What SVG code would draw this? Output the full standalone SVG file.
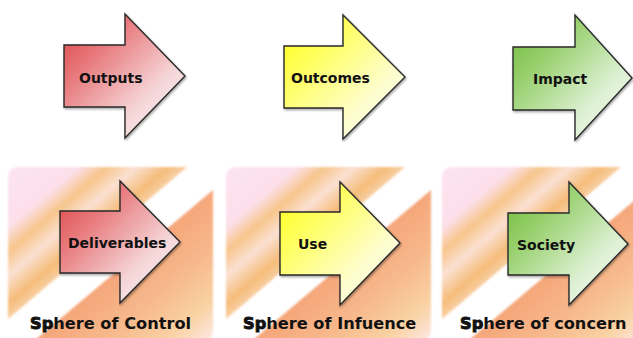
<svg xmlns="http://www.w3.org/2000/svg" width="633" height="338" viewBox="0 0 633 338">
<defs>
<style>
.arrow{stroke:#2a2a2a;stroke-width:1.4;stroke-linejoin:miter;filter:url(#shadow)}
.lbl{font-family:"DejaVu Sans","Liberation Sans",sans-serif;font-weight:bold;font-size:14px;fill:#111}
.sph{font-family:"DejaVu Sans","Liberation Sans",sans-serif;font-weight:bold;font-size:16.2px;fill:#111}
.sp{stroke:#111;stroke-width:0.9}
.piece{filter:url(#soft)}
</style>
<filter id="shadow" x="-10%" y="-10%" width="130%" height="130%">
<feDropShadow dx="1" dy="1.5" stdDeviation="1" flood-color="#000" flood-opacity="0.35"/>
</filter>
<filter id="soft" x="-5%" y="-5%" width="110%" height="110%">
<feGaussianBlur stdDeviation="0.8"/>
</filter>
<linearGradient id="gRed" x1="0" y1="0" x2="1" y2="1">
<stop offset="0" stop-color="#de4040"/>
<stop offset="0.3" stop-color="#e87b7e"/>
<stop offset="0.68" stop-color="#f5d6d8"/>
<stop offset="1" stop-color="#fdf8f8"/>
</linearGradient>
<linearGradient id="gYel" x1="0" y1="0" x2="1" y2="1">
<stop offset="0" stop-color="#ffff10"/>
<stop offset="0.3" stop-color="#ffff60"/>
<stop offset="0.68" stop-color="#fdfdcc"/>
<stop offset="1" stop-color="#ffffff"/>
</linearGradient>
<linearGradient id="gGrn" x1="0" y1="0" x2="1" y2="1">
<stop offset="0" stop-color="#6cb834"/>
<stop offset="0.3" stop-color="#98d06e"/>
<stop offset="0.68" stop-color="#dcf0d2"/>
<stop offset="1" stop-color="#f8fcf6"/>
</linearGradient>
<linearGradient id="gTL" gradientUnits="userSpaceOnUse" x1="0" y1="0" x2="75" y2="88">
<stop offset="0" stop-color="#fde4f1"/>
<stop offset="0.4" stop-color="#fcdfe9"/>
<stop offset="0.56" stop-color="#f7c68c"/>
<stop offset="0.72" stop-color="#fbe0d2"/>
<stop offset="0.9" stop-color="#f5bd7a"/>
<stop offset="1" stop-color="#f8cea2"/>
</linearGradient>
<linearGradient id="gBR" gradientUnits="userSpaceOnUse" x1="117" y1="97" x2="190" y2="183">
<stop offset="0" stop-color="#f5a67a"/>
<stop offset="0.4" stop-color="#f7b98c"/>
<stop offset="0.75" stop-color="#f9d2a4"/>
<stop offset="1" stop-color="#fde8e0"/>
</linearGradient>
<g id="panel">
<path class="piece" d="M0,11 Q0,0 11,0 L179,0 L0,152 Z" fill="url(#gTL)"/>
<path class="piece" d="M205,23 L205,164 Q205,173 196,173 L27,173 Z" fill="url(#gBR)"/>
</g>
</defs>
<rect width="633" height="338" fill="#ffffff"/>

<g id="panel-control"><use href="#panel" x="8" y="167"/></g>
<g id="panel-influence"><use href="#panel" x="226" y="167"/></g>
<g id="panel-concern"><use href="#panel" x="442" y="167"/></g>

<g id="connectors"></g>

<g id="outputs">
<path class="arrow" fill="url(#gRed)" d="M64,45 H125 V14 L185,76 L125,138 V107 H64 Z"/>
<text class="lbl" x="79" y="83">Outputs</text>
</g>
<g id="outcomes">
<path class="arrow" fill="url(#gYel)" d="M284,46 H343 V15 L405,77 L343,139 V108 H284 Z"/>
<text class="lbl" x="291" y="83">Outcomes</text>
</g>
<g id="impact">
<path class="arrow" fill="url(#gGrn)" d="M513,47 H575 V15 L632,78 L575,140 V110 H513 Z"/>
<text class="lbl" x="533" y="84">Impact</text>
</g>

<g id="deliverables">
<path class="arrow" fill="url(#gRed)" d="M60,211 H120 V181 L180,242 L120,303 V273 H60 Z"/>
<text class="lbl" x="68" y="248">Deliverables</text>
</g>
<g id="use">
<path class="arrow" fill="url(#gYel)" d="M280,212 H340 V182 L400,243 L340,305 V275 H280 Z"/>
<text class="lbl" x="298" y="249">Use</text>
</g>
<g id="society">
<path class="arrow" fill="url(#gGrn)" d="M508,213 H569 V182 L628,244 L569,305 V275 H508 Z"/>
<text class="lbl" x="517" y="250">Society</text>
</g>

<g id="label-control"><text class="sph" x="30" y="329"><tspan class="sp">Sp</tspan>here of Control</text></g>
<g id="label-influence"><text class="sph" x="243" y="329"><tspan class="sp">Sp</tspan>here of Infuence</text></g>
<g id="label-concern"><text class="sph" x="460" y="329"><tspan class="sp">Sp</tspan>here of concern</text></g>
</svg>
